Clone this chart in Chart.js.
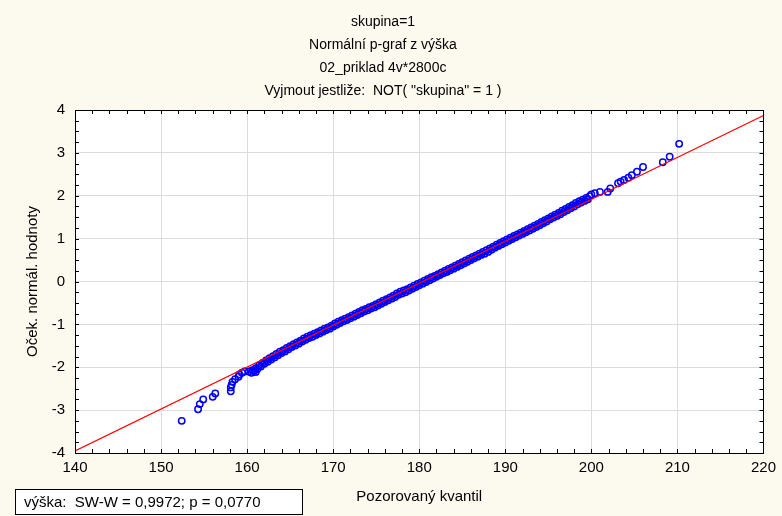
<!DOCTYPE html>
<html>
<head>
<meta charset="utf-8">
<script src="https://cdn.jsdelivr.net/npm/chart.js@4.4.1/dist/chart.umd.min.js"></script>
<style>
  body { margin: 0; background: #fcf9ef; }
  canvas { display: block; }
</style>
</head>
<body>
<canvas id="ppChart" width="782" height="516"></canvas>
<script>
// observed quantiles (vyska) and expected normal values
const obsX = [
  152.4, 154.3, 154.5, 154.9, 156.0, 156.3, 158.1, 158.1, 158.2, 158.3, 158.6, 159.0, 159.1, 159.4, 159.7, 160.2, 160.5, 161.0,
  160.6, 161.0, 161.4, 161.8, 162.2, 162.6, 163.0, 163.4, 163.8, 164.2, 164.6, 165.0, 165.4, 165.8, 166.2, 166.6, 167.0, 167.4,
  167.8, 168.2, 168.6, 169.0, 169.4, 169.8, 170.2, 170.6, 171.0, 171.4, 171.8, 172.2, 172.6, 173.0, 173.4, 173.8, 174.2, 174.6,
  175.0, 175.4, 175.8, 176.2, 176.6, 177.0, 177.4, 177.8, 178.2, 178.6, 179.0, 179.4, 179.8, 180.2, 180.6, 181.0, 181.4, 181.8,
  182.2, 182.6, 183.0, 183.4, 183.8, 184.2, 184.6, 185.0, 185.4, 185.8, 186.2, 186.6, 187.0, 187.4, 187.8, 188.2, 188.6, 189.0,
  189.4, 189.8, 190.2, 190.6, 191.0, 191.4, 191.8, 192.2, 192.6, 193.0, 193.4, 193.8, 194.2, 194.6, 195.0, 195.4, 195.8, 196.2,
  196.6, 197.0, 197.4, 197.8, 198.2, 198.6, 199.0, 199.4, 199.8,
  200.0, 200.4, 201.0, 201.9, 202.2, 203.1, 203.4, 203.8, 204.3, 204.7, 205.3, 206.0, 208.3, 209.1, 210.2
];
const expY = [
  -3.25, -2.98, -2.86, -2.75, -2.69, -2.61, -2.56, -2.47, -2.41, -2.34, -2.28, -2.22, -2.17, -2.13, -2.10, -2.10, -2.13, -2.11,
  -2.07, -2.02, -1.96, -1.90, -1.84, -1.79, -1.74, -1.69, -1.64, -1.60, -1.55, -1.51, -1.46, -1.42, -1.38, -1.33, -1.29, -1.25,
  -1.22, -1.18, -1.14, -1.10, -1.07, -1.03, -0.98, -0.94, -0.90, -0.87, -0.83, -0.79, -0.75, -0.71, -0.67, -0.64, -0.60, -0.57,
  -0.53, -0.49, -0.45, -0.41, -0.37, -0.33, -0.28, -0.24, -0.21, -0.18, -0.14, -0.10, -0.06, -0.02, 0.02, 0.06, 0.10, 0.13,
  0.17, 0.21, 0.25, 0.29, 0.33, 0.37, 0.41, 0.45, 0.49, 0.53, 0.57, 0.61, 0.65, 0.69, 0.73, 0.77, 0.81, 0.86,
  0.90, 0.94, 0.98, 1.02, 1.06, 1.10, 1.14, 1.18, 1.22, 1.26, 1.30, 1.34, 1.39, 1.43, 1.47, 1.52, 1.56, 1.60,
  1.65, 1.69, 1.74, 1.78, 1.83, 1.87, 1.91, 1.95, 1.99,
  2.03, 2.06, 2.09, 2.09, 2.17, 2.29, 2.33, 2.37, 2.42, 2.48, 2.56, 2.67, 2.78, 2.91, 3.21
];
// tied heights in the dense middle part (second point of each tie)
const tieX = [
  160.8, 161.2, 161.6, 162.0, 162.4, 162.8, 163.2, 163.6, 164.0, 164.4, 164.8, 165.2, 165.6, 166.0, 166.4, 166.8, 167.2, 167.6,
  168.0, 168.4, 168.8, 169.2, 169.6, 170.0, 170.4, 170.8, 171.2, 171.6, 172.0, 172.4, 172.8, 173.2, 173.6, 174.0, 174.4, 174.8,
  175.2, 175.6, 176.0, 176.4, 176.8, 177.2, 177.6, 178.0, 178.4, 178.8, 179.2, 179.6, 180.0, 180.4, 180.8, 181.2, 181.6, 182.0,
  182.4, 182.8, 183.2, 183.6, 184.0, 184.4, 184.8, 185.2, 185.6, 186.0, 186.4, 186.8, 187.2, 187.6, 188.0, 188.4, 188.8, 189.2,
  189.6, 190.0, 190.4, 190.8, 191.2, 191.6, 192.0, 192.4, 192.8, 193.2, 193.6, 194.0, 194.4, 194.8, 195.2, 195.6, 196.0, 196.4,
  196.8, 197.2, 197.6, 198.0, 198.4, 198.8, 199.2, 199.6
];
const tieY = [
  -2.09, -2.04, -1.98, -1.92, -1.87, -1.82, -1.77, -1.72, -1.67, -1.63, -1.58, -1.53, -1.49, -1.45, -1.40, -1.36, -1.32, -1.29,
  -1.25, -1.21, -1.17, -1.13, -1.10, -1.05, -1.01, -0.97, -0.93, -0.90, -0.86, -0.82, -0.78, -0.74, -0.70, -0.67, -0.63, -0.60,
  -0.56, -0.52, -0.48, -0.44, -0.40, -0.36, -0.31, -0.28, -0.25, -0.21, -0.17, -0.13, -0.09, -0.05, -0.01, 0.03, 0.07, 0.11,
  0.15, 0.19, 0.22, 0.26, 0.30, 0.34, 0.38, 0.42, 0.46, 0.50, 0.54, 0.58, 0.62, 0.65, 0.69, 0.74, 0.79, 0.83,
  0.87, 0.91, 0.95, 0.99, 1.03, 1.07, 1.11, 1.15, 1.19, 1.23, 1.27, 1.31, 1.36, 1.40, 1.45, 1.49, 1.53, 1.57,
  1.62, 1.66, 1.71, 1.75, 1.80, 1.84, 1.88, 1.92
];
// reference line ends
const lineX = [140, 220];
const lineY = [-3.95, 3.87];

const titleLines = ['skupina=1', 'Normální p-graf z výška', '02_priklad 4v*2800c', 'Vyjmout jestliže:  NOT( "skupina" = 1 )'];
const statsText = 'výška:  SW-W = 0,9972; p = 0,0770';

const FONT = '"Liberation Sans", Arial, sans-serif';

const framePlugin = {
  id: 'frame',
  beforeDraw(chart) {
    const { ctx, chartArea: a } = chart;
    ctx.save();
    ctx.fillStyle = '#fcf9ef';
    ctx.fillRect(0, 0, chart.width, chart.height);
    ctx.fillStyle = '#ffffff';
    ctx.fillRect(a.left, a.top, a.right - a.left, a.bottom - a.top);
    ctx.restore();
  },
  afterDraw(chart) {
    const { ctx, chartArea: a, scales } = chart;
    ctx.save();
    ctx.strokeStyle = '#000';
    ctx.lineWidth = 1;
    ctx.beginPath();
    for (let v = 140; v <= 220; v += 2) {
      const px = Math.round(scales.x.getPixelForValue(v)) + 0.5;
      ctx.moveTo(px, a.bottom); ctx.lineTo(px, a.bottom - 4);
      ctx.moveTo(px, a.top); ctx.lineTo(px, a.top + 4);
    }
    for (let v = -4; v <= 4; v += 0.25) {
      const py = Math.round(scales.y.getPixelForValue(v)) + 0.5;
      ctx.moveTo(a.left, py); ctx.lineTo(a.left + 4, py);
      ctx.moveTo(a.right, py); ctx.lineTo(a.right - 4, py);
    }
    ctx.stroke();
    ctx.strokeRect(Math.round(a.left) + 0.5, Math.round(a.top) + 0.5,
      Math.round(a.right - a.left), Math.round(a.bottom - a.top));
    // stats box
    ctx.fillStyle = '#ffffff';
    ctx.fillRect(15.5, 489.5, 287, 25);
    ctx.strokeRect(15.5, 489.5, 287, 25);
    ctx.fillStyle = '#000';
    ctx.font = '15px ' + FONT;
    ctx.textBaseline = 'middle';
    ctx.fillText(statsText, 24, 503);
    ctx.restore();
  }
};

const points = obsX.map((x, i) => ({ x: x, y: expY[i] }))
  .concat(tieX.map((x, i) => ({ x: x, y: tieY[i] })));
const refLine = lineX.map((x, i) => ({ x: x, y: lineY[i] }));

new Chart(document.getElementById('ppChart'), {
  type: 'scatter',
  data: {
    datasets: [
      {
        type: 'line',
        data: refLine,
        borderColor: '#ff0000',
        borderWidth: 1.2,
        pointRadius: 0,
        fill: false
      },
      {
        data: points,
        pointStyle: 'circle',
        pointRadius: 3.2,
        pointBorderWidth: 1.5,
        pointBorderColor: '#0000ff',
        pointBackgroundColor: 'rgba(0,0,0,0)'
      }
    ]
  },
  options: {
    responsive: false,
    animation: false,
    layout: { padding: { left: 0, right: 16, top: 0, bottom: 0 } },
    plugins: {
      legend: { display: false },
      tooltip: { enabled: false },
      title: {
        display: true,
        text: titleLines,
        color: '#000',
        font: { family: FONT, size: 14, weight: 'normal', lineHeight: '23px' },
        padding: { top: 11, bottom: 7 }
      }
    },
    scales: {
      x: {
        type: 'linear',
        min: 140, max: 220,
        afterFit(s) { s.height = 63; },
        ticks: { stepSize: 10, color: '#000', font: { family: FONT, size: 15 }, padding: 6 },
        grid: { color: '#dcdcdc', drawTicks: false },
        border: { display: false },
        title: { display: true, text: 'Pozorovaný kvantil', color: '#000',
          font: { family: FONT, size: 15 }, padding: { top: 0, bottom: 10 } }
      },
      y: {
        type: 'linear',
        min: -4, max: 4,
        afterFit(s) { s.width = 75; },
        ticks: { stepSize: 1, color: '#000', font: { family: FONT, size: 15 }, padding: 10 },
        grid: { color: '#dcdcdc', drawTicks: false },
        border: { display: false },
        title: { display: true, text: 'Oček. normál. hodnoty', color: '#000',
          font: { family: FONT, size: 15 }, padding: { top: 24, bottom: 0 } }
      }
    }
  },
  plugins: [framePlugin]
});
</script>
</body>
</html>
